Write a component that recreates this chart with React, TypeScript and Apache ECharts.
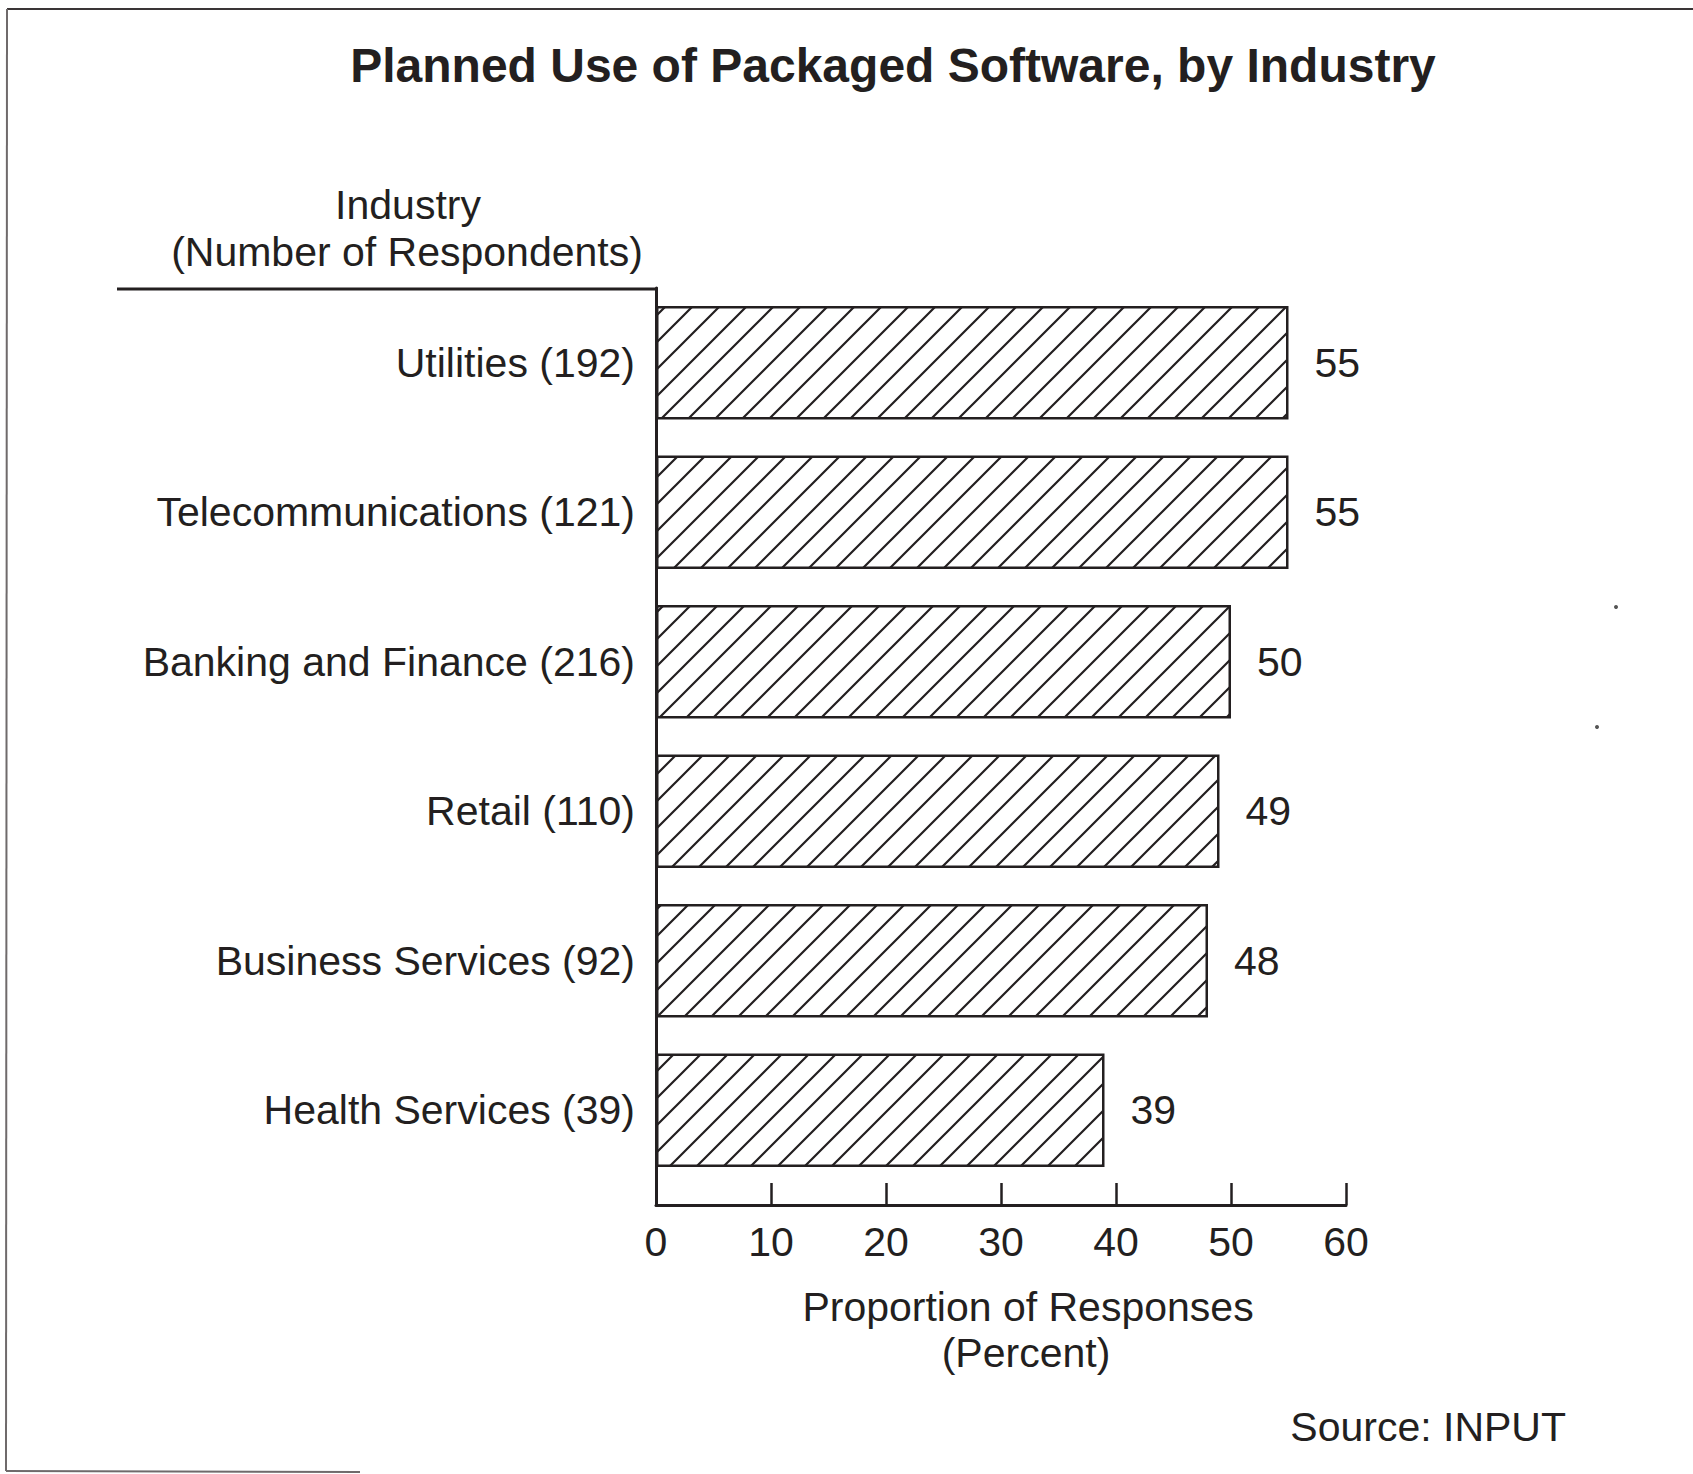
import React, { useEffect, useRef } from 'react';
import * as echarts from 'echarts';

const categories = [
  'Utilities (192)',
  'Telecommunications (121)',
  'Banking and Finance (216)',
  'Retail (110)',
  'Business Services (92)',
  'Health Services (39)',
];
const values = [55, 55, 50, 49, 48, 39];
const xMin = 0;
const xMax = 60;
const xInterval = 10;
const titleText = 'Planned Use of Packaged Software, by Industry';
const yHeader = ['Industry', '(Number of Respondents)'];
const xName = ['Proportion of Responses', '(Percent)'];
const sourceText = 'Source: INPUT';

const INK = '#231f20';
const FONT = "'Liberation Sans', Arial, Helvetica, sans-serif";

function makeHatch(): HTMLCanvasElement {
  const s = 27;
  const c = document.createElement('canvas');
  c.width = s;
  c.height = s;
  const ctx = c.getContext('2d')!;
  ctx.fillStyle = '#ffffff';
  ctx.fillRect(0, 0, s, s);
  ctx.strokeStyle = INK;
  ctx.lineWidth = 2.2;
  ctx.beginPath();
  ctx.moveTo(-2, s + 2);
  ctx.lineTo(s + 2, -2);
  ctx.moveTo(-3, 3);
  ctx.lineTo(3, -3);
  ctx.moveTo(s - 3, s + 3);
  ctx.lineTo(s + 3, s - 3);
  ctx.stroke();
  return c;
}

export default function App() {
  const ref = useRef<HTMLDivElement>(null);
  useEffect(() => {
    if (!ref.current) return;
    const chart = echarts.init(ref.current, undefined, { renderer: 'svg' });
    const gridLeft = 656;
    const gridRight = 347;
    const barsTop = 288;
    const barsBottom = 289;
    const axisBottom = 269;
    const textStyle = { fill: INK, font: `41px ${FONT}` };
    chart.setOption({
      animation: false,
      backgroundColor: '#ffffff',
      grid: [
        { left: gridLeft, right: gridRight, top: barsTop, bottom: barsBottom },
        { left: gridLeft, right: gridRight, top: barsTop, bottom: axisBottom },
      ],
      xAxis: [
        { gridIndex: 0, type: 'value', min: xMin, max: xMax, show: false },
        {
          gridIndex: 1,
          type: 'value',
          min: xMin,
          max: xMax,
          interval: xInterval,
          axisLine: { show: true, lineStyle: { color: INK, width: 3 } },
          axisTick: { show: true, inside: true, length: 22, lineStyle: { color: INK, width: 2.5 } },
          axisLabel: { color: INK, fontSize: 41, fontFamily: FONT, margin: 16 },
          splitLine: { show: false },
        },
      ],
      yAxis: [
        {
          gridIndex: 0,
          type: 'category',
          inverse: true,
          data: categories,
          axisLine: { show: false },
          axisTick: { show: false },
          axisLabel: { color: INK, fontSize: 41, fontFamily: FONT, margin: 21 },
        },
        {
          gridIndex: 1,
          type: 'value',
          min: 0,
          max: 1,
          axisLine: { show: true, onZero: false, lineStyle: { color: INK, width: 3 } },
          axisTick: { show: false },
          axisLabel: { show: false },
          splitLine: { show: false },
        },
      ],
      series: [
        {
          type: 'bar',
          xAxisIndex: 0,
          yAxisIndex: 0,
          data: values,
          barCategoryGap: '24%',
          itemStyle: {
            color: { image: makeHatch(), repeat: 'repeat' },
            borderColor: INK,
            borderWidth: 2.5,
          },
          label: {
            show: true,
            position: 'right',
            distance: 26,
            color: INK,
            fontSize: 41,
            fontFamily: FONT,
          },
        },
      ],
      graphic: [
        {
          type: 'text',
          x: 893,
          y: 65,
          style: { text: titleText, fill: INK, font: `bold 48px ${FONT}`, textAlign: 'center', textVerticalAlign: 'middle' },
        },
        {
          type: 'text',
          x: 408,
          y: 205,
          style: { ...textStyle, text: yHeader[0], textAlign: 'center', textVerticalAlign: 'middle' },
        },
        {
          type: 'text',
          x: 407,
          y: 252,
          style: { ...textStyle, text: yHeader[1], textAlign: 'center', textVerticalAlign: 'middle' },
        },
        {
          type: 'line',
          shape: { x1: 117, y1: 289, x2: 658, y2: 289 },
          style: { stroke: INK, lineWidth: 3 },
        },
        {
          type: 'text',
          x: 1028,
          y: 1307,
          style: { ...textStyle, text: xName[0], textAlign: 'center', textVerticalAlign: 'middle' },
        },
        {
          type: 'text',
          x: 1026,
          y: 1353,
          style: { ...textStyle, text: xName[1], textAlign: 'center', textVerticalAlign: 'middle' },
        },
        {
          type: 'text',
          x: 1566,
          y: 1427,
          style: { ...textStyle, text: sourceText, textAlign: 'right', textVerticalAlign: 'middle' },
        },
        {
          type: 'line',
          shape: { x1: 7, y1: 9, x2: 1693, y2: 9 },
          style: { stroke: '#3a3536', lineWidth: 2 },
        },
        {
          type: 'line',
          shape: { x1: 7, y1: 9, x2: 6, y2: 1471 },
          style: { stroke: '#6f6a6b', lineWidth: 2 },
        },
        {
          type: 'line',
          shape: { x1: 6, y1: 1471, x2: 360, y2: 1472 },
          style: { stroke: '#6f6a6b', lineWidth: 2 },
        },
        { type: 'circle', shape: { cx: 1616, cy: 607, r: 2 }, style: { fill: '#555' } },
        { type: 'circle', shape: { cx: 1597, cy: 727, r: 2 }, style: { fill: '#555' } },
      ],
    });
    return () => chart.dispose();
  }, []);
  return (
    <div
      ref={ref}
      style={{ position: 'absolute', left: 0, top: 0, width: 1693, height: 1474, background: '#fff' }}
    />
  );
}
